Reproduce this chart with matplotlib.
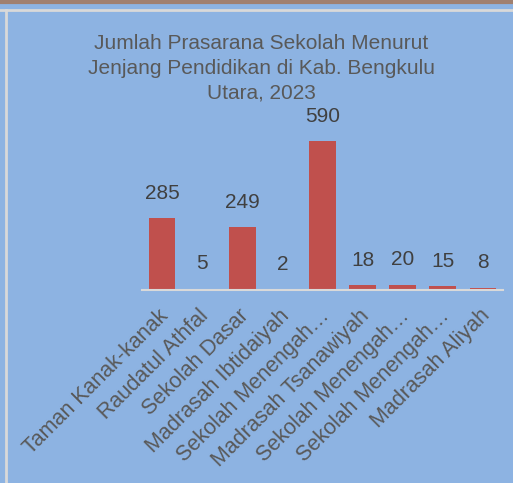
import matplotlib.pyplot as plt
import matplotlib.transforms as mtransforms
from matplotlib.lines import Line2D

plt.rcParams['font.family'] = ['Liberation Sans', 'DejaVu Sans']

# data
categories = ['Taman Kanak-kanak', 'Raudatul Athfal', 'Sekolah Dasar', 'Madrasah Ibtidaiyah',
              'Sekolah Menengah…', 'Madrasah Tsanawiyah', 'Sekolah Menengah…',
              'Sekolah Menengah…', 'Madrasah Aliyah']
values = [285, 5, 249, 2, 590, 18, 20, 15, 8]
title = 'Jumlah Prasarana Sekolah Menurut\nJenjang Pendidikan di Kab. Bengkulu\nUtara, 2023'

BG = '#8DB3E2'
W, H = 513, 483
fig = plt.figure(figsize=(W / 100, H / 100), dpi=100, facecolor=BG)

# frame decorations
fig.add_artist(Line2D([0, 1], [1 - 2 / H, 1 - 2 / H], color='#A08070', lw=3, transform=fig.transFigure))
fig.add_artist(Line2D([0, 1], [1 - 9.5 / H, 1 - 9.5 / H], color='#D9D9D9', lw=2, transform=fig.transFigure))
fig.add_artist(Line2D([5.5 / W, 5.5 / W], [0, 1 - 9.5 / H], color='#D9D9D9', lw=2, transform=fig.transFigure))

ax = fig.add_axes([142 / W, (H - 290) / H, 361 / W, 149 / H])
ax.set_facecolor('none')
x = range(len(values))
bars = ax.bar(x, values, width=0.67, color='#C0504D', zorder=2)
ax.set_xlim(-0.5, len(values) - 0.5)
ax.set_ylim(0, 590)
for s in ('top', 'right', 'left'):
    ax.spines[s].set_visible(False)
ax.spines['bottom'].set_color('#D9D9D9')
ax.spines['bottom'].set_linewidth(1.5)
ax.set_yticks([])
ax.tick_params(axis='x', length=0, pad=11)
ax.set_xticks(list(x))
ax.set_xticklabels(categories, rotation=45, ha='right', rotation_mode='anchor',
                   fontsize=15.5, color='#595959')
shift = mtransforms.ScaledTranslation(-4 / 100, 0, fig.dpi_scale_trans)
for lab in ax.get_xticklabels():
    lab.set_transform(lab.get_transform() + shift)

for xi, v in zip(x, values):
    ax.annotate(str(v), (xi, v), xytext=(0, 25), textcoords='offset pixels',
                ha='center', va='center', fontsize=15, color='#404040', annotation_clip=False)

fig.text(261 / W, 1 - 34 / H, title, ha='center', va='top', fontsize=15,
         color='#595959', linespacing=1.38)

fig.savefig('out.png', dpi=100, facecolor=BG)
